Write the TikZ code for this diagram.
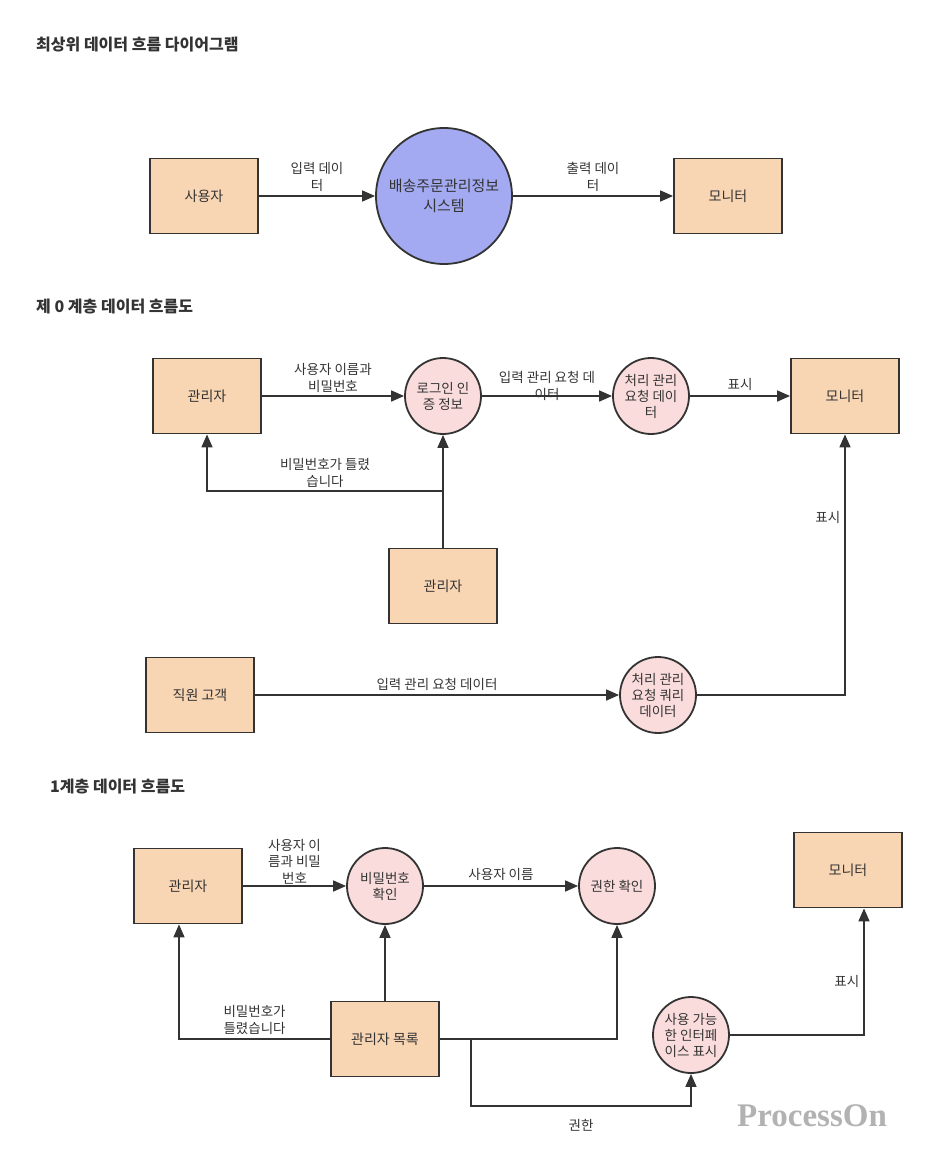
\documentclass[tikz,border=0pt]{standalone}
\usepackage{fontspec}
\setmainfont{Noto Sans CJK KR}
\newfontfamily\wmfont{Liberation Serif}
\usetikzlibrary{arrows.meta,positioning}

\definecolor{entfill}{HTML}{F8D5B3}
\definecolor{sysfill}{HTML}{A3AAF1}
\definecolor{procfill}{HTML}{FADCDC}
\definecolor{ink}{HTML}{333333}

\tikzset{
  entity/.style={draw=ink, line width=1.8pt, fill=entfill, minimum width=108pt, minimum height=75pt,
    text=ink, font=\fontsize{14}{17}\selectfont},
  sysproc/.style={circle, draw=ink, line width=1.8pt, fill=sysfill, minimum size=136pt, inner sep=0pt,
    align=center, text=ink, font=\fontsize{15}{20}\selectfont},
  proc/.style={circle, draw=ink, line width=1.8pt, fill=procfill, minimum size=76pt, inner sep=0pt,
    align=center, text=ink, font=\fontsize{13.5}{16}\selectfont},
  flow/.style={draw=ink, line width=1.6pt, -{Triangle[length=13pt,width=11pt]}},
  lbl/.style={align=center, inner sep=1pt, text=ink, font=\fontsize{13.5}{16.5}\selectfont},
  heading/.style={anchor=west, inner sep=0pt, text=ink, font=\bfseries\fontsize{16}{19}\selectfont},
  watermark/.style={text=black!30, font=\wmfont\bfseries\fontsize{33}{36}\selectfont}
}

\begin{document}
\begin{tikzpicture}[x=1pt,y=-1pt]
\useasboundingbox (0,0) rectangle (927,1176);

% top level
\node[heading] (head0) at (36,45) {최상위 데이터 흐름 다이어그램};
\node[entity] (user) at (204,196) {사용자};
\node[sysproc] (sys) at (444,196) {배송주문관리정보\\시스템};
\node[entity] (mon0) at (728,196) {모니터};
\draw[flow] (user) -- node[lbl,above=3pt] {입력 데이\\터} (sys);
\draw[flow] (sys) -- node[lbl,above=3pt] {출력 데이\\터} (mon0);

% level 0
\node[heading] (head1) at (36,307) {제 0 계층 데이터 흐름도};
\node[entity] (adm0) at (207,396) {관리자};
\node[proc] (login) at (443,396) {로그인 인\\증 정보};
\node[proc] (req) at (651,396) {처리 관리\\요청 데이\\터};
\node[entity] (mon1) at (845,396) {모니터};
\node[entity] (adm1) at (443,586) {관리자};
\node[entity] (staff) at (200,695) {직원 고객};
\node[proc] (query) at (658,695) {처리 관리\\요청 쿼리\\데이터};
\coordinate (fork1) at (443,491);
\draw[flow] (adm0) -- node[lbl,above=2pt] {사용자 이름과\\비밀번호} (login);
\draw[flow] (login) -- node[lbl,yshift=10pt] {입력 관리 요청 데\\이터} (req);
\draw[flow] (req) -- node[lbl,above=4pt] {표시} (mon1);
\draw[flow] (adm1) -- (login);
\draw[flow] (fork1) -| node[lbl,pos=0.25,above=2pt] {비밀번호가 틀렸\\습니다} (adm0);
\draw[flow] (staff) -- node[lbl,above=3pt] {입력 관리 요청 데이터} (query);
\draw[flow] (query) -| node[lbl,pos=0.84,left=3pt] {표시} (mon1);

% level 1
\node[heading] (head2) at (50,787) {1계층 데이터 흐름도};
\node[entity] (adm2) at (188,886) {관리자};
\node[proc] (pwchk) at (385,886) {비밀번호\\확인};
\node[proc] (auth) at (617,886) {권한 확인};
\node[entity] (mon2) at (848,870) {모니터};
\node[entity] (admlist) at (385,1039) {관리자 목록};
\node[proc] (ui) at (691,1035) {사용 가능\\한 인터페\\이스 표시};
\coordinate (branch) at (471,1039);
\coordinate (low) at (471,1106);
\draw[flow] (adm2) -- node[lbl,above=0pt] {사용자 이\\름과 비밀\\번호} (pwchk);
\draw[flow] (pwchk) -- node[lbl,above=4pt] {사용자 이름} (auth);
\draw[flow] (admlist) -- (pwchk);
\draw[flow] (admlist.west) -| node[lbl,pos=0.25,above=3pt] {비밀번호가\\틀렸습니다} ([xshift=-9pt]adm2.south);
\draw[flow] (admlist.east) -| (auth);
\draw[flow] (branch) -- (low) -| node[lbl,pos=0.25,below=12pt] {권한} (ui);
\draw[flow] (ui) -| node[lbl,pos=0.71,left=3pt] {표시} ([xshift=16pt]mon2.south);

\node[watermark] (wm) at (812,1116) {ProcessOn};
\end{tikzpicture}
\end{document}
